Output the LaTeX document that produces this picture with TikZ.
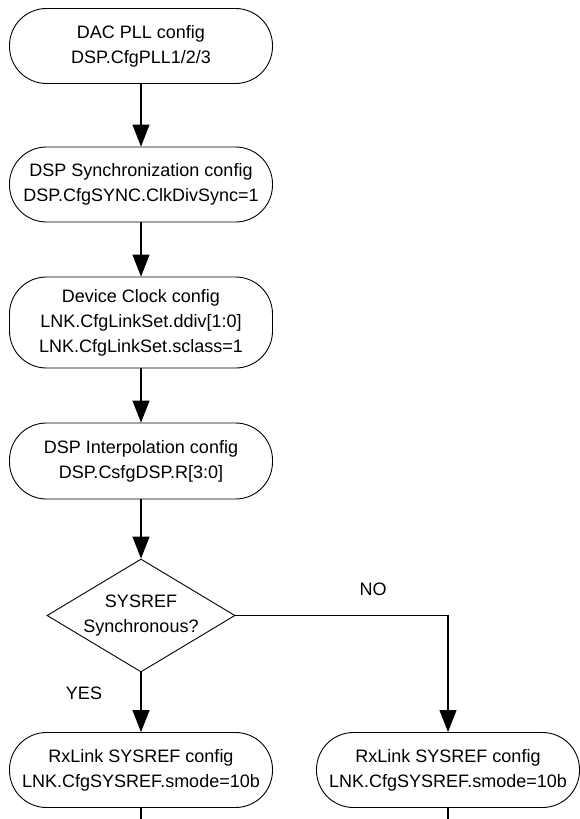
\documentclass[tikz,border=0pt]{standalone}
\usepackage{fontspec}
\setmainfont{Liberation Sans}
\usetikzlibrary{arrows.meta,shapes.geometric}

\begin{document}
\begin{tikzpicture}[
  x=1pt,y=1pt,
  font=\fontsize{18}{25}\selectfont,
  stadium/.style={draw=black,fill=white,rounded corners=37pt,
                  minimum width=263pt,minimum height=75pt,line width=0.9pt,
                  align=center,inner sep=0pt},
  decision/.style={draw=black,fill=white,diamond,aspect=1.66,
                   minimum width=188pt,minimum height=113pt,inner sep=0pt,
                   line width=0.9pt,align=center},
  flow/.style={-{Triangle[length=22pt,width=17pt]},line width=1.1pt},
  stub/.style={line width=1.1pt},
  lbl/.style={font=\fontsize{18}{22}\selectfont}
]

% ---- columns ----
\def\xL{141}   % main flow
\def\xR{448}   % NO branch

\useasboundingbox (0,0) rectangle (579,-819);
\coordinate (cut) at (0,-819);

% ---- config steps ----
\node[stadium] (pll)  at (\xL,-46)    {DAC PLL config\\DSP.CfgPLL1/2/3};
\node[stadium] (sync) at (\xL,-184.5) {DSP Synchronization config\\DSP.CfgSYNC.ClkDivSync=1};
\node[stadium,minimum height=91pt] (dclk) at (\xL,-322.5)
  {Device Clock config\\LNK.CfgLinkSet.ddiv[1:0]\\LNK.CfgLinkSet.sclass=1};
\node[stadium,minimum height=76pt] (interp) at (\xL,-461)
  {DSP Interpolation config\\DSP.CsfgDSP.R[3:0]};

% ---- decision ----
\node[decision] (sysref) at (\xL,-615.5) {SYSREF\\Synchronous?};

% ---- SYSREF config (both branches) ----
\node[stadium] (srefY) at (\xL,-770) {RxLink SYSREF config\\LNK.CfgSYSREF.smode=10b};
\node[stadium] (srefN) at (\xR,-770) {RxLink SYSREF config\\LNK.CfgSYSREF.smode=10b};

% ---- arrows ----
\draw[flow] (pll) -- (sync);
\draw[flow] (sync) -- (dclk);
\draw[flow] (dclk) -- (interp);
\draw[flow] (interp) -- (sysref);
\draw[flow] (sysref) -- (srefY);
\draw[flow] (sysref.east) -| (srefN.north);

\node[lbl] (yes) at (84,-693) {YES};
\node[lbl] (no)  at (373,-589) {NO};

% ---- continuing off the page ----
\draw[stub] (srefY.south) -- (srefY.south |- cut);
\draw[stub] (srefN.south) -- (srefN.south |- cut);

\end{tikzpicture}
\end{document}
